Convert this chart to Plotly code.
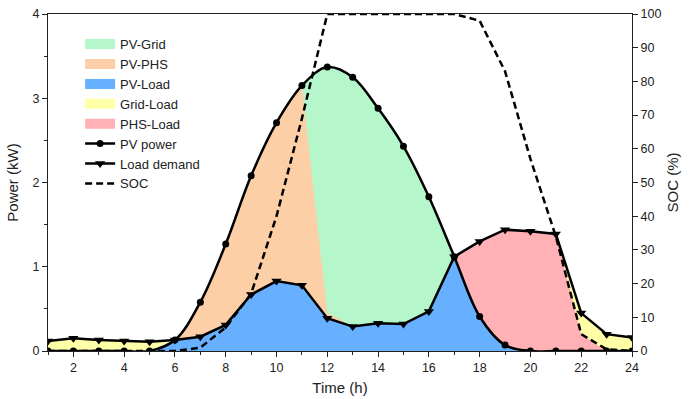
import plotly.graph_objects as go

# ---------------- data ----------------
hours = list(range(1, 25))
pv_power = [0, 0, 0, 0, 0, 0.13, 0.58, 1.27, 2.08, 2.71, 3.15, 3.37,
            3.25, 2.88, 2.43, 1.83, 1.12, 0.41, 0.07, 0, 0, 0, 0, 0]
load_demand = [0.12, 0.15, 0.13, 0.12, 0.11, 0.13, 0.17, 0.31, 0.67, 0.83, 0.78, 0.39,
               0.29, 0.33, 0.32, 0.47, 1.12, 1.30, 1.44, 1.42, 1.39, 0.45, 0.20, 0.16]
soc = [0, 0, 0, 0, 0, 0, 1, 7, 17, 40, 69, 100,
       100, 100, 100, 100, 100, 98, 83, 57, 34, 5, 0.5, 0]
pv_to_phs = [0, 0, 0, 0, 0, 0, 0.41, 0.96, 1.41, 1.88, 2.37, 0.06,
             0, 0, 0, 0, 0, 0, 0, 0, 0, 0, 0, 0]
phs_to_load = [0, 0, 0, 0, 0, 0, 0, 0, 0, 0, 0, 0,
               0, 0, 0, 0, 0, 0.89, 1.37, 1.42, 1.39, 0.20, 0, 0]

x_ticks = [2, 4, 6, 8, 10, 12, 14, 16, 18, 20, 22, 24]

# derived stack boundaries
pv_to_load = [min(p, l) for p, l in zip(pv_power, load_demand)]
pv_phs_top = [a + b for a, b in zip(pv_to_load, pv_to_phs)]
phs_top = [min(l, a + b) for l, a, b in zip(load_demand, pv_to_load, phs_to_load)]

C_GRID = "#b5f7cb"
C_PHS = "#fccfa6"
C_LOAD = "#66b0ff"
C_GRIDLOAD = "#ffffa8"
C_PHSLOAD = "#ffb1b5"

FONT = "Arial, Liberation Sans, sans-serif"

fig = go.Figure()

def idx(h0, h1):
    return [i for i, h in enumerate(hours) if h0 <= h <= h1]

def area(xs, ys, color, shape="linear", fill="tozeroy"):
    fig.add_trace(go.Scatter(x=xs, y=ys, mode="lines", line=dict(width=0, color=color, shape=shape),
                             fill=fill, fillcolor=color, showlegend=False, hoverinfo="skip"))

# 1. Grid-Load (yellow): under load demand
area(hours, load_demand, C_GRIDLOAD)

# 2. PHS-Load (pink)
ii = idx(17, 23)
area([hours[i] for i in ii], [phs_top[i] for i in ii], C_PHSLOAD)

# 3. PV-PHS (orange): under PV curve
area(hours, pv_power, C_PHS, shape="spline")

# 4. PV-Grid (green): between PV-PHS top and PV curve
ii = idx(11, 17)
fig.add_trace(go.Scatter(x=[hours[i] for i in ii], y=[pv_phs_top[i] for i in ii], mode="lines",
                         line=dict(width=0), showlegend=False, hoverinfo="skip"))
area([hours[i] for i in ii], [pv_power[i] for i in ii], C_GRID, shape="spline", fill="tonexty")

# 5. PV-Load (blue)
ii = idx(1, 18)
area([hours[i] for i in ii], [pv_to_load[i] for i in ii], C_LOAD)
ii = idx(17, 24)
area([hours[i] for i in ii], [pv_power[i] for i in ii], C_LOAD, shape="spline")

# legend entries for the areas
for name, color, rank in [("PV-Grid", C_GRID, 1), ("PV-PHS", C_PHS, 2), ("PV-Load", C_LOAD, 3),
                          ("Grid-Load", C_GRIDLOAD, 4), ("PHS-Load", C_PHSLOAD, 5)]:
    fig.add_trace(go.Scatter(x=[None], y=[None], mode="lines", name=name, legendrank=rank,
                             line=dict(color=color, width=10)))

# 6. Lines
fig.add_trace(go.Scatter(x=hours, y=pv_power, mode="lines+markers", name="PV power", legendrank=6,
                         line=dict(color="black", width=2.5, shape="spline"),
                         marker=dict(symbol="circle", size=7, color="black")))
fig.add_trace(go.Scatter(x=hours, y=load_demand, mode="lines+markers", name="Load demand", legendrank=7,
                         line=dict(color="black", width=2.5),
                         marker=dict(symbol="triangle-down", size=9, color="black")))
fig.add_trace(go.Scatter(x=hours, y=soc, mode="lines", name="SOC", legendrank=8, yaxis="y2",
                         line=dict(color="black", width=2.5, dash="7px,4px")))

axis_common = dict(showline=True, linecolor="#222", linewidth=1.2, ticks="outside",
                   tickcolor="#222", tickwidth=1.2, ticklen=5, showgrid=False, zeroline=False,
                   automargin=False, tickfont=dict(family=FONT, size=12.5, color="#222"))

fig.update_layout(
    width=689, height=399,
    margin=dict(l=48, r=57, t=14, b=48, autoexpand=False),
    paper_bgcolor="white", plot_bgcolor="white",
    font=dict(family=FONT, color="#222"),
    xaxis=dict(range=[1, 24], tickvals=x_ticks, mirror=True,
               minor=dict(dtick=1, tick0=1, ticks="outside", ticklen=3, tickcolor="#222", tickwidth=1),
               title=dict(text="Time (h)", font=dict(family=FONT, size=15), standoff=8),
               **axis_common),
    yaxis=dict(range=[0, 4], dtick=1,
               minor=dict(dtick=0.5, ticks="outside", ticklen=3, tickcolor="#222", tickwidth=1),
               title=dict(text="Power (kW)", font=dict(family=FONT, size=15), standoff=10),
               **axis_common),
    yaxis2=dict(range=[0, 100], dtick=10, overlaying="y", side="right",
                title=dict(text="SOC (%)", font=dict(family=FONT, size=15), standoff=6),
                **axis_common),
    legend=dict(x=0.055, y=0.955, xanchor="left", yanchor="top", bgcolor="rgba(0,0,0,0)",
                font=dict(family=FONT, size=13, color="#222"), tracegroupgap=0,
                traceorder="normal"),
    showlegend=True,
)

fig.write_html("out.html", config={"displayModeBar": False},
               post_script="document.body.style.margin='0';document.body.style.overflow='hidden';")
